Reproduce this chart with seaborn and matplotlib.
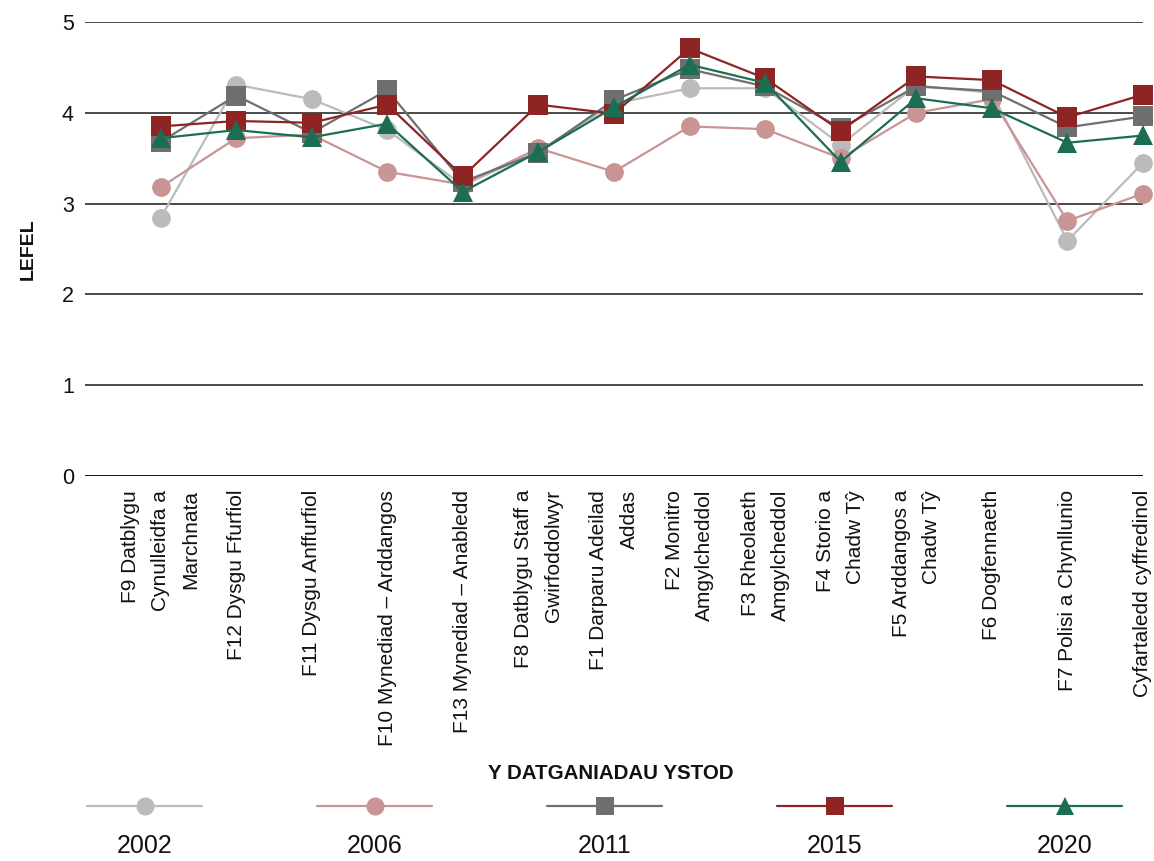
import matplotlib
matplotlib.use("Agg")
import matplotlib.pyplot as plt
import seaborn as sns
import pandas as pd
from matplotlib import font_manager

# ---------------- data ----------------
categories = [
    "F9 Datblygu\nCynulleidfa a\nMarchnata",
    "F12 Dysgu Ffurfiol",
    "F11 Dysgu Anffurfiol",
    "F10 Mynediad – Arddangos",
    "F13 Mynediad – Anabledd",
    "F8 Datblygu Staff a\nGwirfoddolwyr",
    "F1 Darparu Adeilad\nAddas",
    "F2 Monitro\nAmgylcheddol",
    "F3 Rheolaeth\nAmgylcheddol",
    "F4 Storio a\nChadw Tŷ",
    "F5 Arddangos a\nChadw Tŷ",
    "F6 Dogfennaeth",
    "F7 Polisi a Chynllunio",
    "Cyfartaledd cyffredinol",
]
years = ["2002", "2006", "2011", "2015", "2020"]
values_2002 = [2.84, 4.31, 4.15, 3.81, 3.20, 3.58, 4.10, 4.27, 4.27, 3.65, 4.30, 4.22, 2.59, 3.45]
values_2006 = [3.18, 3.72, 3.76, 3.35, 3.21, 3.61, 3.35, 3.85, 3.82, 3.50, 4.00, 4.15, 2.81, 3.11]
values_2011 = [3.68, 4.19, 3.78, 4.25, 3.24, 3.56, 4.14, 4.48, 4.29, 3.83, 4.29, 4.24, 3.84, 3.96]
values_2015 = [3.85, 3.91, 3.89, 4.09, 3.30, 4.09, 3.99, 4.71, 4.38, 3.80, 4.40, 4.36, 3.95, 4.20]
values_2020 = [3.72, 3.81, 3.73, 3.88, 3.13, 3.57, 4.06, 4.53, 4.33, 3.46, 4.16, 4.05, 3.67, 3.75]
y_ticks = [0, 1, 2, 3, 4, 5]
x_title = "Y DATGANIADAU YSTOD"
y_title = "LEFEL"

series = {"2002": values_2002, "2006": values_2006, "2011": values_2011,
          "2015": values_2015, "2020": values_2020}
rows = []
for yr in years:
    for cat, v in zip(categories, series[yr]):
        rows.append({"cat": cat, "year": yr, "value": v})
df = pd.DataFrame(rows)

palette = {"2002": "#bbbbbb", "2006": "#c99494", "2011": "#6f6f6f",
           "2015": "#8f2424", "2020": "#1b6e51"}
markers = {"2002": "o", "2006": "o", "2011": "s", "2015": "s", "2020": "^"}

# ---------------- fonts ----------------
sns.set_theme(style="white")
names = {f.name for f in font_manager.fontManager.ttflist}
base = "Liberation Sans" if "Liberation Sans" in names else "DejaVu Sans"
narrow = "Liberation Sans Narrow" if "Liberation Sans Narrow" in names else base
plt.rcParams["font.family"] = [base, "DejaVu Sans"]
title_size = 18 if narrow != base else 14.8
ylab_size = 17 if narrow != base else 14

# ---------------- figure ----------------
fig = plt.figure(figsize=(11.54, 8.61), dpi=100)
ax = fig.add_axes([85 / 1154, 1 - 476 / 861, (1143 - 85) / 1154, (476 - 22) / 861])

sns.lineplot(data=df, x="cat", y="value", hue="year", style="year",
             hue_order=years, style_order=years, palette=palette,
             markers=markers, dashes=False, sort=False, errorbar=None,
             linewidth=1.6, markersize=13.5, markeredgewidth=0, ax=ax)

for ln in ax.get_lines():
    ln.set_clip_on(False)
    if ln.get_marker() in ("^", "s"):
        ln.set_markersize(14)

handles, labels = ax.get_legend_handles_labels()
if ax.get_legend() is not None:
    ax.get_legend().remove()

ax.set_ylim(0, 5)
ax.set_xlim(-1, 13)
ax.set_yticks(y_ticks)
ax.grid(False)
for yv in y_ticks:
    ax.axhline(yv, color="#111111" if yv == 0 else "#4a4a4a",
               lw=1.4, zorder=0.5)
for s in ax.spines.values():
    s.set_visible(False)
ax.tick_params(axis="both", length=0)
ax.tick_params(axis="y", pad=8, labelsize=15.5, labelcolor="#111111")
ax.tick_params(axis="x", pad=10, labelsize=15, labelcolor="#111111")
for lbl in ax.get_xticklabels():
    lbl.set_rotation(90)
    lbl.set_multialignment("right")
    lbl.set_linespacing(1.75)

ax.set_ylabel(y_title, fontsize=ylab_size, fontweight="bold",
              family=[narrow, "DejaVu Sans"], color="#111111")
ax.yaxis.set_label_coords(-0.0454, 0.5)
ax.set_xlabel(x_title, fontsize=title_size, fontweight="bold",
              family=[narrow, "DejaVu Sans"], color="#111111", va="center")
ax.xaxis.set_label_coords(0.497, -0.656)

leg = fig.legend(handles, [""] * len(handles), loc="center",
                 bbox_to_anchor=(0.524, 1 - 808 / 861), ncol=5, frameon=False,
                 handlelength=4.6, handletextpad=0, columnspacing=4.6, fontsize=18)
for h in leg.legend_handles:
    h.set_markersize(13)
    h.set_linewidth(1.6)

fig.canvas.draw()
renderer = fig.canvas.get_renderer()
W = fig.bbox.width
for h, lab in zip(leg.legend_handles, labels):
    bb = h.get_window_extent(renderer)
    cx = (bb.x0 + bb.x1) / 2 / W
    fig.text(cx, 1 - 846 / 861, lab, ha="center", va="center", fontsize=18,
             family=[narrow, "DejaVu Sans"], color="#111111")

fig.savefig("out.png", dpi=100)
